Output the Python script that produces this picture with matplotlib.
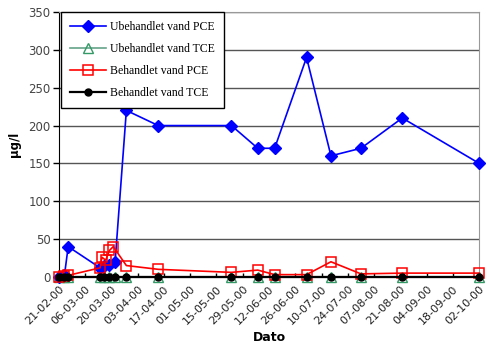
import numpy as np
import matplotlib
matplotlib.use('Agg')
import matplotlib.pyplot as plt
import matplotlib.dates as mdates
from datetime import datetime

# sample dates (dd-mm-yy) and concentrations in ug/l
datoer = ["21-02-00", "24-02-00", "26-02-00", "14-03-00", "16-03-00", "19-03-00",
          "22-03-00", "28-03-00", "14-04-00", "23-05-00", "06-06-00", "15-06-00",
          "02-07-00", "15-07-00", "31-07-00", "22-08-00", "02-10-00"]
ubeh_pce = [0, 2, 40, 12, 14, 16, 20, 220, 200, 200, 170, 170, 290, 160, 170, 210, 150]
ubeh_tce = [0, 0, 0, 0, 0, 0, 0, 0, 0, 0, 0, 0, 0, 0, 0, 0, 0]
beh_tce = [0, 0, 0, 0, 0, 0, 0, 0, 0, 0, 0, 0, 0, 0, 0, 0, 0]

# the treated PCE series has a few extra samples in March
beh_pce_datoer = ["21-02-00", "24-02-00", "26-02-00", "14-03-00", "15-03-00", "17-03-00",
                  "19-03-00", "21-03-00", "28-03-00", "14-04-00", "23-05-00", "06-06-00",
                  "15-06-00", "02-07-00", "15-07-00", "31-07-00", "22-08-00", "02-10-00"]
beh_pce = [0, 1, 2, 12, 26, 22, 35, 40, 15, 10, 6, 9, 3, 3, 20, 4, 5, 5]

tick_start = "21-02-00"
tick_end = "02-10-00"


def to_dates(lst):
    return [datetime.strptime(s, "%d-%m-%y") for s in lst]


x = to_dates(datoer)
x2 = to_dates(beh_pce_datoer)

fig = plt.figure(figsize=(4.9, 3.55), dpi=100)
ax = fig.add_axes([0.120, 0.220, 0.858, 0.746])

ax.plot(x, ubeh_pce, color='#0000ff', lw=1.2, marker='D', ms=6.5,
        mec='#0000ff', mfc='#0000ff', label='Ubehandlet vand PCE', clip_on=False, zorder=4)
ax.plot(x, ubeh_tce, color='#66a38a', lw=1.2, marker='^', ms=7,
        mec='#339966', mfc='none', label='Ubehandlet vand TCE', clip_on=False, zorder=3)
ax.plot(x2, beh_pce, color='#ff0000', lw=1.2, marker='s', ms=7.5,
        mec='#ff0000', mfc='none', mew=1.1, label='Behandlet vand PCE', clip_on=False, zorder=5)
ax.plot(x, beh_tce, color='#000000', lw=1.6, marker='o', ms=5,
        mec='#000000', mfc='#000000', label='Behandlet vand TCE', clip_on=False, zorder=6)

t0, t1 = to_dates([tick_start, tick_end])
ax.set_xlim(t0, t1)
ax.set_ylim(0, 350)
ax.set_yticks(np.arange(0, 351, 50))
ax.set_xticks(mdates.drange(t0, t1 + (t1 - t0) / 1000, (t1 - t0) / 16))
ax.xaxis.set_major_formatter(mdates.DateFormatter('%d-%m-%y'))

ax.grid(axis='y', color='#555555', lw=1.0)
ax.set_axisbelow(True)
for side in ['top', 'right']:
    ax.spines[side].set_color('#999999')
ax.spines['left'].set_color('#000000')
ax.spines['bottom'].set_color('#000000')
ax.spines['bottom'].set_linewidth(1.5)

ax.tick_params(axis='y', labelsize=8.5, labelcolor='#444444', length=4, width=1, pad=2)
ax.tick_params(axis='x', labelsize=8, labelcolor='#222222', length=3, width=1,
               direction='in', pad=5)
for lbl in ax.get_xticklabels():
    lbl.set_rotation(45)
    lbl.set_ha('right')
    lbl.set_rotation_mode('anchor')

ax.set_ylabel('µg/l', fontsize=8.5, fontweight='bold', labelpad=5)
ax.set_xlabel('Dato', fontsize=9, fontweight='bold', labelpad=3)

leg = ax.legend(loc='upper left', bbox_to_anchor=(0.006, 1.0), borderaxespad=0,
                fancybox=False, edgecolor='#000000', framealpha=1,
                prop={'family': 'Liberation Serif', 'size': 8.5},
                borderpad=0.75, labelspacing=0.85, handlelength=3.0, handletextpad=0.4)
leg.get_frame().set_linewidth(1.0)
leg.set_zorder(10)

fig.savefig('out.png', dpi=100)
